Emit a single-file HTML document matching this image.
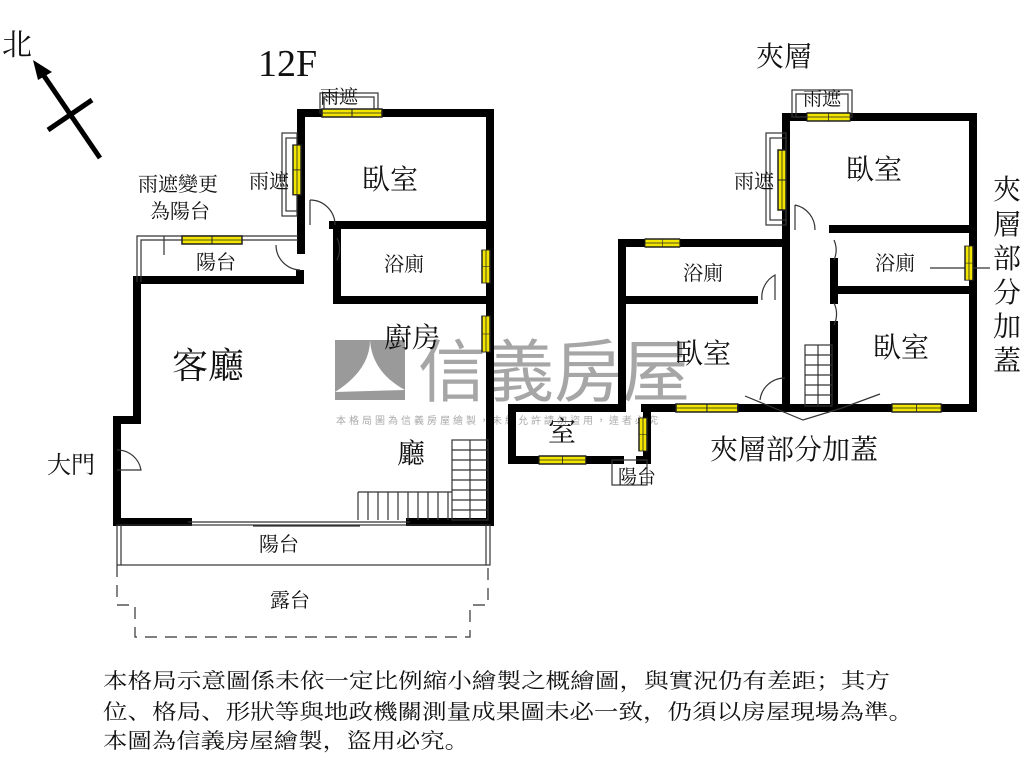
<!DOCTYPE html>
<html><head><meta charset="utf-8"><style>
html,body{margin:0;padding:0;background:#fff;}
svg{display:block}
text{font-family:"Liberation Serif","Noto Serif CJK SC","Noto Sans CJK TC",serif;fill:#111}
</style></head><body>
<svg width="1024" height="768" viewBox="0 0 1024 768" xmlns="http://www.w3.org/2000/svg">
<defs>
<g id="wh"><rect x="0" y="0" width="60" height="8" fill="#f2e600" stroke="#222" stroke-width="1.5"/><line x1="30" y1="0" x2="30" y2="8" stroke="#222"/><line x1="0" y1="4" x2="60" y2="4" stroke="#222" stroke-width="0.8"/></g>
</defs>
<!-- watermark -->
<rect x="335" y="340" width="70" height="60" fill="#9a9a9a"/>
<path d="M335 392 Q370 370 370 340 Q372 372 405 390" fill="#fff"/>
<text x="418" y="396" font-size="68" fill="#a6a6a6" style="fill:#a6a6a6;font-family:'Noto Sans CJK TC',sans-serif">信義房屋</text>
<text x="336" y="424" font-size="10" style="fill:#aaa;font-family:'Noto Sans CJK TC',sans-serif" letter-spacing="3">本格局圖為信義房屋繪製，未經允許請勿盜用，違者必究</text>

<!-- north arrow -->
<line x1="100" y1="158" x2="40" y2="70" stroke="#000" stroke-width="5"/>
<polygon points="33,60 52,72 38,80" fill="#000"/>
<line x1="48" y1="130" x2="92" y2="100" stroke="#000" stroke-width="5"/>
<text x="2" y="55" font-size="30">北</text>
<text x="258" y="76" font-size="38">12F</text>
<text x="756" y="66" font-size="28">夾層</text>

<g stroke="#000" stroke-width="8" fill="none" stroke-linecap="square">
<path d="M301 250 V113 H490 V522 H410"/>
<path d="M333 225 H490"/>
<path d="M337 232 V300 H490"/>
<path d="M137 280 H300 V274"/>
<path d="M137 280 V420 H117 V522 H188"/>
<path d="M786 405 V117 H973 V408 H645"/>
<path d="M833 229 H973"/>
<path d="M834 290 H973"/>
<path d="M834 262 V300"/>
<path d="M834 325 V408"/>
<path d="M786 243 H622 V408"/>
<path d="M622 300 H754"/>
<path d="M622 408 H512 V460 H620"/>
<path d="M647 408 V460 H640"/>
</g>
<g stroke="#333" stroke-width="1.2" fill="none">
<rect x="320" y="93" width="58" height="20"/>
<rect x="324" y="97" width="50" height="16"/>
<rect x="282" y="133" width="15" height="83"/>
<rect x="286" y="138" width="11" height="73"/>
<path d="M298 236 H137 V282 M298 240 H141 V282"/>
<path d="M164 236 V255"/>
<rect x="117" y="525" width="373" height="40"/>
<path d="M121 525 V565 M486 525 V565"/>
<path d="M188 522 H410 M253 526 H360"/>
<path d="M117 565 V605 H135 V637 H470 V605 H488 V565" stroke-dasharray="12,8"/>
<rect x="452" y="440" width="36" height="80"/>
<path d="M452 450 H488 M452 460 H488 M452 470 H488 M452 480 H488 M452 490 H488 M452 500 H488 M452 510 H488 M470 440 V520"/>
<path d="M358 492 H452 M358 492 V520"/>
<path d="M368 492 V520 M378 492 V520 M388 492 V520 M398 492 V520 M408 492 V520 M418 492 V520 M428 492 V520 M438 492 V520 M448 492 V520"/>
<path d="M310 200 A25 25 0 0 1 335 225"/><path d="M310 200 V225"/>
<path d="M337 238 A25 25 0 0 1 337 260"/>
<path d="M276 245 A25 25 0 0 0 300 270"/>
<path d="M117 450 A24 24 0 0 1 141 470 H117"/>
<rect x="792" y="90" width="60" height="27"/>
<rect x="796" y="94" width="52" height="23"/>
<rect x="766" y="133" width="20" height="92"/>
<rect x="770" y="138" width="16" height="82"/>
<rect x="612" y="460" width="35" height="25"/>
<path d="M795 205 A25 25 0 0 1 815 230"/><path d="M795 205 V230"/>
<path d="M834 240 A25 25 0 0 1 834 260"/>
<path d="M834 303 A25 25 0 0 1 834 325"/>
<path d="M762 300 A25 25 0 0 1 775 275 V300"/>
<path d="M760 400 A25 25 0 0 1 785 378"/>
<rect x="805" y="345" width="27" height="61"/>
<path d="M805 355 H832 M805 365 H832 M805 375 H832 M805 385 H832 M805 395 H832 M818 345 V406"/>
<path d="M745 396 L803 420 L842 408 M880 394 L842 408"/>
<path d="M930 268 H990"/>
</g>
<use href="#wh" x="322" y="109"/>
<g transform="translate(297,145) rotate(90) translate(0,-4)"><use href="#wh" x="0" y="0" transform="scale(0.83,1)"/></g>
<use href="#wh" x="182" y="236"/>
<g transform="translate(486,250) rotate(90) translate(0,-4)"><use href="#wh" transform="scale(0.55,1)"/></g>
<g transform="translate(486,316) rotate(90) translate(0,-4)"><use href="#wh" transform="scale(0.6,1)"/></g>
<use href="#wh" x="807" y="113" transform="translate(807,0) scale(0.72,1) translate(-807,0)"/>
<g transform="translate(782,150) rotate(90) translate(0,-4)"><use href="#wh" transform="scale(1,1)"/></g>
<use href="#wh" x="0" y="0" transform="translate(645,239) scale(0.58,1)"/>
<g transform="translate(969,246) rotate(90) translate(0,-4)"><use href="#wh" transform="scale(0.57,1)"/></g>
<use href="#wh" transform="translate(676,404) scale(1.03,1)"/>
<use href="#wh" transform="translate(892,404) scale(0.82,1)"/>
<use href="#wh" transform="translate(539,456) scale(0.78,1)"/>
<g transform="translate(643,418) rotate(90) translate(0,-4)"><use href="#wh" transform="scale(0.55,1)"/></g>

<g style="font-family:'Liberation Sans','Noto Sans CJK TC',sans-serif">
<text x="320" y="103" font-size="19">雨遮</text>
<text x="249" y="188" font-size="20">雨遮</text>
<text x="362" y="189" font-size="28">臥室</text>
<text x="138" y="191" font-size="20">雨遮變更</text>
<text x="150" y="218" font-size="20">為陽台</text>
<text x="196" y="269" font-size="20">陽台</text>
<text x="384" y="271" font-size="20">浴廁</text>
<text x="384" y="347" font-size="28">廚房</text>
<text x="172" y="378" font-size="36">客廳</text>
<text x="397" y="463" font-size="28">廳</text>
<text x="47" y="473" font-size="24">大門</text>
<text x="259" y="551" font-size="20">陽台</text>
<text x="270" y="607" font-size="20">露台</text>
<text x="803" y="105" font-size="19">雨遮</text>
<text x="734" y="188" font-size="20">雨遮</text>
<text x="846" y="179" font-size="28">臥室</text>
<text x="683" y="280" font-size="20">浴廁</text>
<text x="875" y="270" font-size="20">浴廁</text>
<text x="675" y="363" font-size="28">臥室</text>
<text x="873" y="357" font-size="28">臥室</text>
<text x="548" y="441" font-size="28">室</text>
<text x="618" y="483" font-size="19">陽台</text>
<text x="710" y="459" font-size="28">夾層部分加蓋</text>
<text x="993" y="199" font-size="28">夾</text>
<text x="993" y="234" font-size="28">層</text>
<text x="993" y="268" font-size="28">部</text>
<text x="993" y="302" font-size="28">分</text>
<text x="993" y="336" font-size="28">加</text>
<text x="993" y="370" font-size="28">蓋</text>
</g>
<g style="font-family:'Noto Sans CJK TC','Noto Serif CJK SC',sans-serif" font-size="21">
<text x="103" y="688" textLength="787" lengthAdjust="spacingAndGlyphs">本格局示意圖係未依一定比例縮小繪製之概繪圖，與實況仍有差距；其方</text>
<text x="103" y="719" textLength="810" lengthAdjust="spacingAndGlyphs">位、格局、形狀等與地政機關測量成果圖未必一致，仍須以房屋現場為準。</text>
<text x="103" y="748" textLength="366" lengthAdjust="spacingAndGlyphs">本圖為信義房屋繪製，盜用必究。</text>
</g>
</svg>
</body></html>
